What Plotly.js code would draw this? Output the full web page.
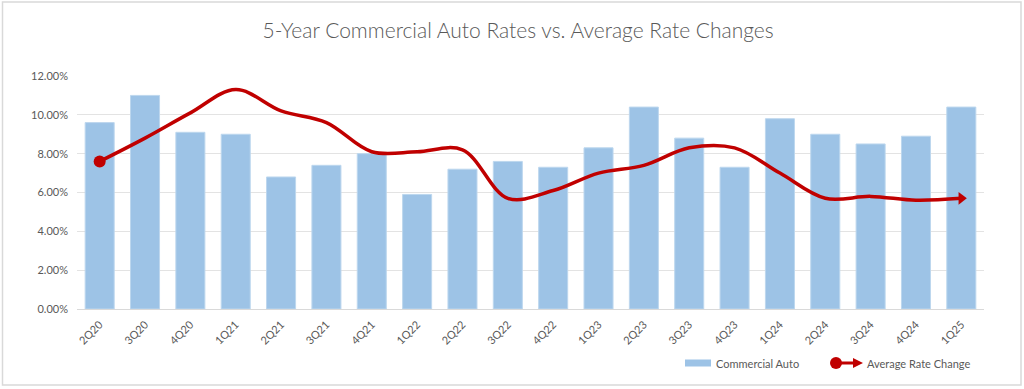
<!DOCTYPE html>
<html>
<head>
<meta charset="utf-8">
<script src="https://cdn.plot.ly/plotly-3.0.1.min.js"></script>
<style>html,body{margin:0;padding:0;background:#fff;}#chart{width:1024px;height:389px;}</style>
</head>
<body>
<div id="chart"></div>
<script>
const quarters = ["2Q20","3Q20","4Q20","1Q21","2Q21","3Q21","4Q21","1Q22","2Q22","3Q22","4Q22","1Q23","2Q23","3Q23","4Q23","1Q24","2Q24","3Q24","4Q24","1Q25"];
const commercialAuto = [9.6,11.0,9.1,9.0,6.8,7.4,8.0,5.9,7.2,7.6,7.3,8.3,10.4,8.8,7.3,9.8,9.0,8.5,8.9,10.4];
const avgRateChange = [7.6,8.8,10.1,11.3,10.2,9.6,8.1,8.1,8.2,5.7,6.1,7.0,7.4,8.3,8.3,7.0,5.7,5.8,5.6,5.7];
const yTicks = [0,2,4,6,8,10,12];
const yTickLabels = ["0.00%","2.00%","4.00%","6.00%","8.00%","10.00%","12.00%"];
const seriesNames = ["Commercial Auto", "Average Rate Change"];

const n = quarters.length;
const RED = "#c00000";
const BLUE = "#9dc3e6";

const traces = [
  {
    type: "bar",
    name: seriesNames[0],
    x: quarters,
    y: commercialAuto.map(v=>v/100),
    marker: {color: BLUE, line: {color: "#bdd7ee", width: 1}},
    showlegend: false,
    hoverinfo: "skip"
  },
  {
    type: "scatter",
    mode: "lines",
    name: seriesNames[1],
    x: quarters,
    y: avgRateChange.map(v=>v/100),
    line: {color: RED, width: 3.5, shape: "spline", smoothing: 1},
    showlegend: false,
    hoverinfo: "skip"
  },
  {
    type: "scatter",
    mode: "markers",
    x: [quarters[0]],
    y: [avgRateChange[0]/100],
    marker: {color: RED, symbol: "circle", size: 12},
    showlegend: false,
    hoverinfo: "skip"
  },
  {
    type: "scatter",
    mode: "markers",
    x: [quarters[n-1]],
    y: [avgRateChange[n-1]/100],
    marker: {color: RED, symbol: "triangle-right", size: 11},
    showlegend: false,
    hoverinfo: "skip"
  }
];

// pixel -> paper helpers for the hand-made legend and frame
const L = 77, R = 40, T = 76, B = 80, W = 1024, H = 389;
const pw = W - L - R, ph = H - T - B;
const px = v => (v - L) / pw;
const py = v => (H - B - v) / ph;

const legendY = 363;

const layout = {
  width: W,
  height: H,
  margin: {l: L, r: R, t: T, b: B},
  paper_bgcolor: "#ffffff",
  plot_bgcolor: "#ffffff",
  bargap: 0.36,
  font: {family: "Lato, 'Liberation Sans', sans-serif", color: "#595959", size: 11},
  title: {
    text: "5-Year Commercial Auto Rates vs. Average Rate Changes",
    font: {family: "Lato, sans-serif", size: 21, color: "#595959", weight: 300},
    x: 0.506, xref: "container", xanchor: "center",
    y: 0.92, yref: "container", yanchor: "middle"
  },
  xaxis: {
    type: "category",
    range: [-0.5, n - 0.5],
    autorange: false,
    tickangle: -45,
    showgrid: false,
    showline: true,
    linecolor: "#d9d9d9",
    linewidth: 1,
    ticks: "",
    ticklabelstandoff: 4,
    tickfont: {size: 11, color: "#595959"},
    fixedrange: true
  },
  yaxis: {
    range: [0, 0.12],
    tickvals: yTicks.map(v=>v/100),
    ticktext: yTickLabels,
    showgrid: true,
    gridcolor: "#e3e3e3",
    gridwidth: 1,
    zeroline: false,
    showline: false,
    ticks: "",
    ticklabelstandoff: 8,
    tickfont: {size: 11, color: "#595959"},
    fixedrange: true
  },
  showlegend: false,
  shapes: [
    {type: "rect", xref: "paper", yref: "paper",
     x0: px(2.5), x1: px(1021), y0: py(385), y1: py(2),
     line: {color: "#d9d9d9", width: 1.5}, fillcolor: "rgba(0,0,0,0)", layer: "below"},
    // legend: bar swatch
    {type: "rect", xref: "paper", yref: "paper",
     x0: px(685), x1: px(711), y0: py(legendY + 3.5), y1: py(legendY - 3.5),
     line: {width: 0}, fillcolor: BLUE},
    // legend: line with circle and arrow
    {type: "line", xref: "paper", yref: "paper",
     x0: px(836), x1: px(857), y0: py(legendY), y1: py(legendY),
     line: {color: RED, width: 3}},
    {type: "circle", xref: "paper", yref: "paper",
     x0: px(830), x1: px(842), y0: py(legendY + 6), y1: py(legendY - 6),
     line: {width: 0}, fillcolor: RED},
    {type: "path", xref: "paper", yref: "paper",
     path: "M " + px(853) + " " + py(legendY - 5) + " L " + px(863) + " " + py(legendY) + " L " + px(853) + " " + py(legendY + 5) + " Z",
     line: {width: 0}, fillcolor: RED}
  ],
  annotations: [
    {xref: "paper", yref: "paper", x: px(714), y: py(legendY), xanchor: "left", yanchor: "middle",
     text: seriesNames[0], showarrow: false, font: {size: 11, color: "#595959"}},
    {xref: "paper", yref: "paper", x: px(865), y: py(legendY), xanchor: "left", yanchor: "middle",
     text: seriesNames[1], showarrow: false, font: {size: 11, color: "#595959"}}
  ]
};

Plotly.newPlot("chart", traces, layout, {displayModeBar: false, staticPlot: true});
</script>
</body>
</html>
